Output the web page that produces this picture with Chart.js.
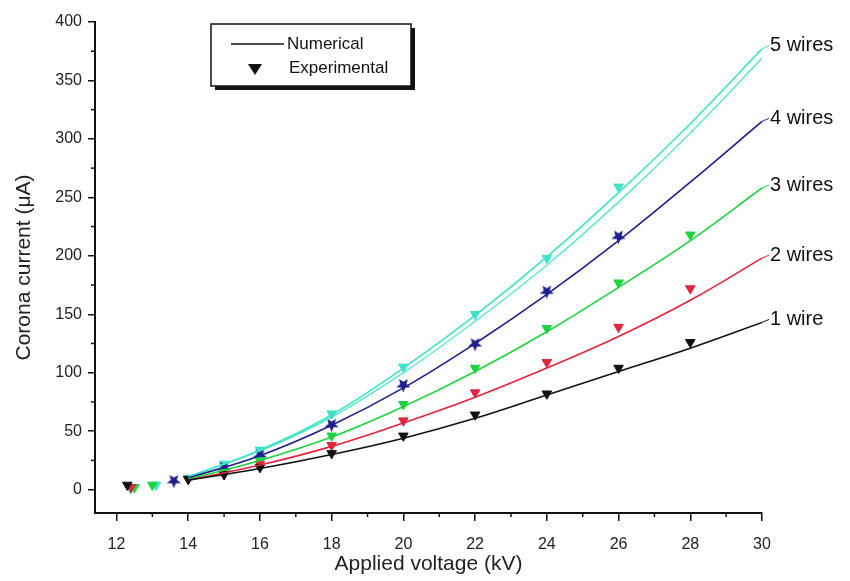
<!DOCTYPE html>
<html>
<head>
<meta charset="utf-8">
<script src="https://cdn.jsdelivr.net/npm/chart.js@4"></script>
<style>
  html, body { margin: 0; padding: 0; background: #fff; }
  #wrap { width: 850px; height: 581px; }
</style>
</head>
<body>
<div id="wrap"><canvas id="myChart" width="850" height="581"></canvas></div>
<script>
// numerical curves (kV -> uA)
const voltsNum = [14, 16, 18, 20, 22, 24, 26, 28, 30];
const num1 = [8, 18, 30, 44, 61, 81, 101, 121, 143];
const num2 = [8, 21, 37, 57, 79, 104, 131, 162, 198];
const num3 = [9, 25, 45, 71, 101, 135, 173, 213, 258];
const num4 = [10, 29, 55, 87, 125, 167, 213, 263, 315];
const num5 = [11, 34, 64, 104, 149, 199, 254, 313, 377];
const num5b = [11, 33, 62, 100, 144, 192, 246, 305, 369];

// experimental points
const exp1V = [12.3, 14, 15, 16, 18, 20, 22, 24, 26, 28];
const exp1 = [4, 9, 13, 19, 31, 46, 64, 82, 104, 126];
const exp2V = [12.4, 14, 15, 16, 18, 20, 22, 24, 26, 28];
const exp2 = [2, 9, 13, 22, 38, 59, 83, 109, 139, 172];
const exp3V = [12.5, 13, 14, 15, 16, 18, 20, 22, 24, 26, 28];
const exp3 = [2, 4, 9, 15, 25, 46, 73, 104, 138, 177, 218];
const exp4V = [13.6, 15, 16, 18, 20, 22, 24, 26];
const exp4 = [7, 18, 29, 55, 89, 124, 169, 216];
const exp5V = [12.4, 13.1, 14, 15, 16, 18, 20, 22, 24, 26];
const exp5 = [1, 4, 10, 22, 34, 65, 105, 150, 198, 259];

const seriesNames = ['1 wire', '2 wires', '3 wires', '4 wires', '5 wires'];
const colors = ['#111111', '#e0243c', '#1ed23e', '#1e1e8c', '#3ee3c6'];
const xTicks = [12, 14, 16, 18, 20, 22, 24, 26, 28, 30];
const yTicks = [0, 50, 100, 150, 200, 250, 300, 350, 400];

const pts = (xs, ys) => xs.map((x, i) => ({ x: x, y: ys[i] }));

// filled star for 4 wires
function starImg(color) {
  const c = document.createElement('canvas');
  c.width = 15; c.height = 15;
  const g = c.getContext('2d');
  g.fillStyle = color;
  g.beginPath();
  for (let i = 0; i < 10; i++) {
    const r = i % 2 === 0 ? 7.5 : 3.2;
    const a = -Math.PI / 2 + i * Math.PI / 5;
    g.lineTo(7.5 + r * Math.cos(a), 8 + r * Math.sin(a));
  }
  g.closePath();
  g.fill();
  return c;
}

const numSets = [num1, num2, num3, num4, num5];
const expSets = [[exp1V, exp1], [exp2V, exp2], [exp3V, exp3], [exp4V, exp4], [exp5V, exp5]];

const datasets = [];
numSets.forEach((s, i) => {
  datasets.push({
    label: seriesNames[i],
    data: pts(voltsNum, s),
    showLine: true,
    borderColor: colors[i],
    borderWidth: 1.6,
    pointRadius: 0,
    tension: 0.4,
    fill: false
  });
});
datasets.push({
  label: '5 wires b',
  data: pts(voltsNum, num5b),
  showLine: true,
  borderColor: colors[4],
  borderWidth: 1.2,
  pointRadius: 0,
  tension: 0.4,
  fill: false
});
expSets.forEach((s, i) => {
  datasets.push({
    label: seriesNames[i] + ' exp',
    data: pts(s[0], s[1]),
    showLine: false,
    pointStyle: i === 3 ? starImg(colors[3]) : 'triangle',
    rotation: 180,
    pointRadius: 5.5,
    backgroundColor: colors[i],
    borderColor: colors[i],
    borderWidth: 1
  });
});

const FONT = '"Liberation Sans", Arial, sans-serif';

const extras = {
  id: 'extras',
  afterDraw(chart) {
    const { ctx, scales: { x, y } } = chart;
    ctx.save();
    // minor ticks
    ctx.strokeStyle = '#111';
    ctx.lineWidth = 1.5;
    for (let v = 13; v < 30; v += 2) {
      const px = x.getPixelForValue(v);
      ctx.beginPath(); ctx.moveTo(px, x.top); ctx.lineTo(px, x.top + 4); ctx.stroke();
    }
    for (let v = 25; v < 400; v += 50) {
      const py = y.getPixelForValue(v);
      ctx.beginPath(); ctx.moveTo(y.right, py); ctx.lineTo(y.right - 4, py); ctx.stroke();
    }
    // series labels with leader lines
    ctx.font = '20px ' + FONT;
    ctx.textBaseline = 'middle';
    numSets.forEach((s, i) => {
      const ex = x.getPixelForValue(30);
      const ey = y.getPixelForValue(s[s.length - 1]);
      ctx.strokeStyle = colors[i];
      ctx.lineWidth = 1;
      ctx.beginPath(); ctx.moveTo(ex, ey); ctx.lineTo(ex + 7, ey - 3); ctx.stroke();
      ctx.fillStyle = '#111';
      ctx.fillText(seriesNames[i], ex + 8, ey - 3);
    });
    // legend box
    const bx = 211, by = 24, bw = 200, bh = 62;
    ctx.fillStyle = '#111';
    ctx.fillRect(bx + 4, by + 4, bw, bh);
    ctx.fillStyle = '#fff';
    ctx.fillRect(bx, by, bw, bh);
    ctx.strokeStyle = '#111';
    ctx.lineWidth = 1.5;
    ctx.strokeRect(bx, by, bw, bh);
    ctx.beginPath(); ctx.moveTo(bx + 20, by + 20); ctx.lineTo(bx + 73, by + 20); ctx.stroke();
    ctx.fillStyle = '#111';
    ctx.beginPath();
    ctx.moveTo(bx + 37, by + 40); ctx.lineTo(bx + 51, by + 40); ctx.lineTo(bx + 44, by + 51);
    ctx.closePath(); ctx.fill();
    ctx.font = '17px ' + FONT;
    ctx.fillText('Numerical', bx + 76, by + 20);
    ctx.fillText('Experimental', bx + 78, by + 44);
    ctx.restore();
  }
};

new Chart(document.getElementById('myChart'), {
  type: 'scatter',
  data: { datasets: datasets },
  options: {
    responsive: false,
    animation: false,
    layout: { padding: { top: 22, right: 88, left: 8, bottom: 0 } },
    plugins: { legend: { display: false }, tooltip: { enabled: false } },
    scales: {
      x: {
        type: 'linear',
        min: 11.4,
        max: 30,
        afterBuildTicks: s => { s.ticks = xTicks.map(v => ({ value: v })); },
        afterFit: s => { s.height = 68; },
        border: { display: true, color: '#111', width: 2 },
        grid: { drawOnChartArea: false, drawTicks: true, tickLength: 8, color: '#111', lineWidth: 1.5 },
        ticks: { color: '#222', font: { size: 16, family: FONT }, padding: 14, maxRotation: 0 },
        title: { display: true, text: 'Applied voltage (kV)', color: '#222', font: { size: 21, family: FONT }, padding: { top: 0 } }
      },
      y: {
        type: 'linear',
        min: -20,
        max: 400,
        afterBuildTicks: s => { s.ticks = yTicks.map(v => ({ value: v })); },
        afterFit: s => { s.width = 87; },
        border: { display: true, color: '#111', width: 2 },
        grid: { drawOnChartArea: false, drawTicks: true, tickLength: 7, color: '#111', lineWidth: 1.5 },
        ticks: { color: '#222', font: { size: 16, family: FONT }, padding: 6 },
        title: { display: true, text: 'Corona current (\u03bcA)', color: '#222', font: { size: 21, family: FONT }, padding: { bottom: 4 } }
      }
    }
  },
  plugins: [extras]
});
</script>
</body>
</html>
